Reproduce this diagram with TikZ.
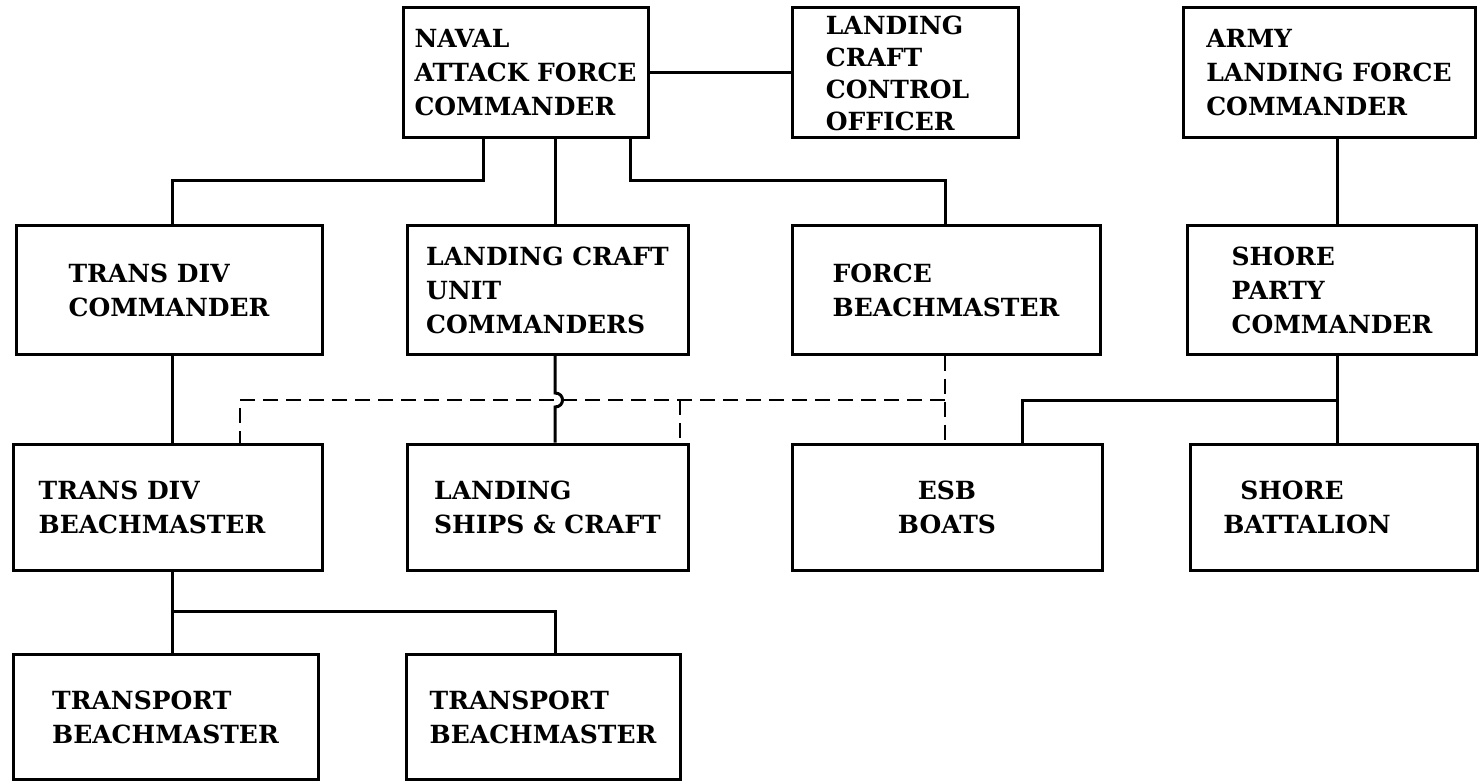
\documentclass[tikz,border=0pt]{standalone}
\usepackage{fontspec}
\setmainfont{DejaVu Serif}
\usetikzlibrary{calc}
\tikzset{
  unit/.style={draw, line width=3pt, align=left, inner sep=1pt,
    font=\bfseries\fontsize{25}{34}\selectfont},
  link/.style={line width=3pt},
  dlink/.style={line width=2.6pt, dash pattern=on 15pt off 8pt}
}
\begin{document}
\begin{tikzpicture}[x=1pt, y=-1pt]
  \useasboundingbox (0,0) rectangle (1479,783);
  % Ligne du haut
  \node[unit, minimum width=245, minimum height=130] (naval) at (525.5,73) {NAVAL\\ATTACK FORCE\\COMMANDER};
  \node[unit, minimum width=226, minimum height=130, font=\bfseries\fontsize{25}{32}\selectfont] (lcco) at (905,73) {LANDING\\CRAFT\\CONTROL\rule{15pt}{0pt}\\OFFICER};
  \node[unit, minimum width=292, minimum height=130] (army) at (1329,73) {ARMY\\LANDING FORCE\\COMMANDER};
  % Commandants
  \node[unit, minimum width=306, minimum height=128] (tdc) at (169,290) {TRANS DIV\\COMMANDER};
  \node[unit, minimum width=281, minimum height=128] (lcu) at (547.5,290) {LANDING CRAFT\\UNIT\\COMMANDERS};
  \node[unit, minimum width=308, minimum height=128] (fbm) at (946,290) {FORCE\\BEACHMASTER};
  \node[unit, minimum width=289, minimum height=128] (spc) at (1332,290) {SHORE\\PARTY\\COMMANDER};
  % Unites
  \node[unit, minimum width=309, minimum height=126] (tdb) at (167.5,507) {TRANS DIV\\BEACHMASTER\rule{31pt}{0pt}};
  \node[unit, minimum width=281, minimum height=126] (lsc) at (547.5,507) {LANDING\\SHIPS \& CRAFT};
  \node[unit, minimum width=310, minimum height=126, align=center] (esb) at (947,507) {ESB\\BOATS};
  \node[unit, minimum width=287, minimum height=126] (sb) at (1333.5,507) {\hspace*{17pt}SHORE\\BATTALION\rule{53pt}{0pt}};
  % Beachmasters
  \node[unit, minimum width=305, minimum height=125] (tb1) at (165.5,717) {TRANSPORT\\BEACHMASTER};
  \node[unit, minimum width=274, minimum height=125] (tb2) at (543,717) {TRANSPORT\\BEACHMASTER};
  % Reperes
  \coordinate (xTD) at (172,0);
  \coordinate (xN1) at (483,0);
  \coordinate (xLC) at (555,0);
  \coordinate (xN3) at (630,0);
  \coordinate (xFB) at (945,0);
  \coordinate (xES) at (1022,0);
  \coordinate (xAR) at (1337,0);
  \coordinate (xDL) at (240,0);
  \coordinate (xDR) at (680,0);
  \coordinate (rA) at (0,181);
  \coordinate (rD) at (0,400);
  \coordinate (rT) at (0,611);
  % Liaisons
  \draw[link] (naval.east) -- (lcco.west);
  \draw[link] (xN1 |- naval.south) |- (xTD |- rA) -- (xTD |- tdc.north);
  \draw[link] (xLC |- naval.south) -- (xLC |- lcu.north);
  \draw[link] (xN3 |- naval.south) |- (xFB |- rA) -- (xFB |- fbm.north);
  \draw[link] (xAR |- army.south) -- (xAR |- spc.north);
  \draw[link] (xTD |- tdc.south) -- (xTD |- tdb.north);
  \draw[link] (xTD |- tdb.south) -- (xTD |- tb1.north);
  \draw[link] (xTD |- rT) -| (xLC |- tb2.north);
  \draw[link] (xLC |- lcu.south) -- ($(xLC |- rD)+(0,-7)$)
    .. controls +(10,0) and +(10,0) .. ($(xLC |- rD)+(0,7)$) -- (xLC |- lsc.north);
  \draw[link] (xAR |- spc.south) -- (xAR |- sb.north);
  \draw[link] (xAR |- rD) -| (xES |- esb.north);
  % Pointilles
  \draw[dlink] (xFB |- fbm.south) -- (xFB |- esb.north);
  \draw[dlink] (xFB |- rD) -| (xDL |- tdb.north);
  \draw[dlink] (xDR |- rD) -- (xDR |- lsc.north);
\end{tikzpicture}
\end{document}
